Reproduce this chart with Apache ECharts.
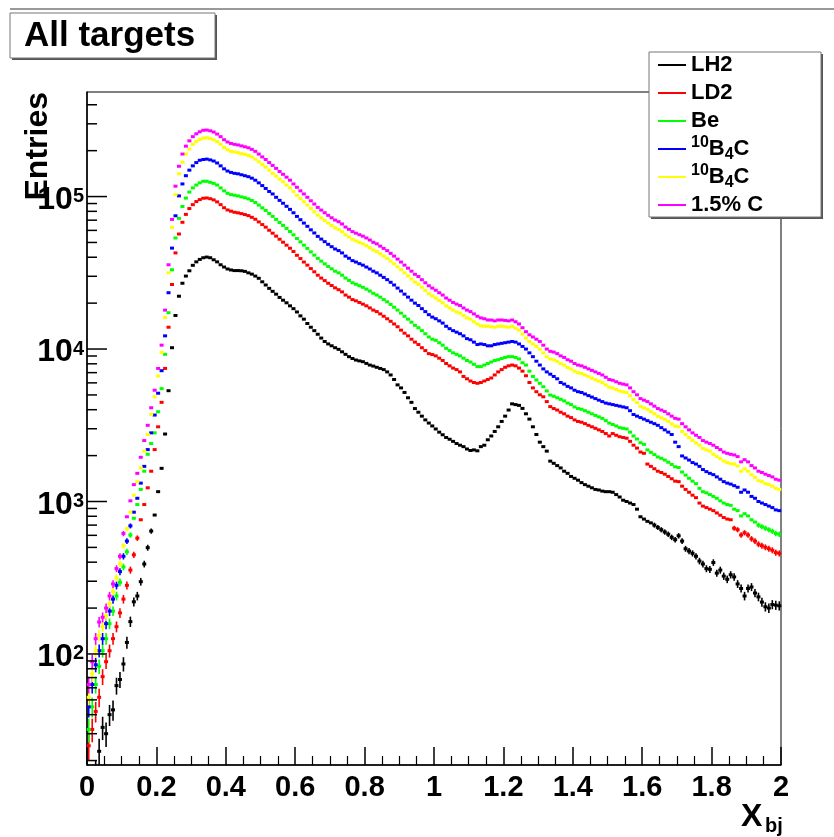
<!DOCTYPE html>
<html>
<head>
    <meta charset="UTF-8">
    <title>All targets</title>
    <script src="https://cdn.jsdelivr.net/npm/echarts@6/dist/echarts.min.js"></script>
    <style>html, body { margin: 0; padding: 0; background: #fff; }</style>
</head>
<body>
    <div id="chart" style="width:834px; height:837px;"></div>
    <script>
        // X_bj histograms: 200 bins of width 0.01 from 0 to 2, entries per bin
        var binWidth = 0.01;

        var lh2 = [
            10, 12, 16, 23, 33, 30, 40, 43, 62, 68,
            86, 119, 163, 220, 240, 298, 389, 498, 640, 815,
            1160, 1650, 2770, 5330, 10200, 16600, 22200, 27000, 30100, 32600,
            35400, 37300, 38700, 39700, 40100, 39700, 38500, 37300, 35700, 34500,
            33500, 33000, 32700, 32700, 32600, 32300, 31600, 31000, 30100, 29100,
            27600, 26300, 25000, 23900, 22900, 21800, 20900, 20100, 19200, 18400,
            17500, 16500, 15700, 14700, 13900, 13200, 12500, 11800, 11200, 10800,
            10500, 10200, 9950, 9590, 9230, 8910, 8670, 8470, 8360, 8260,
            8050, 7850, 7730, 7590, 7460, 7330, 7080, 6760, 6310, 5820,
            5560, 5190, 4790, 4470, 4070, 3850, 3630, 3430, 3270, 3130,
            2990, 2850, 2740, 2630, 2560, 2480, 2400, 2340, 2290, 2210,
            2160, 2180, 2150, 2290, 2340, 2540, 2690, 2880, 3090, 3350,
            3630, 3980, 4370, 4320, 4270, 4080, 3760, 3470, 3090, 2750,
            2450, 2290, 2140, 1840, 1780, 1720, 1660, 1580, 1530, 1460,
            1420, 1380, 1330, 1290, 1260, 1230, 1200, 1190, 1170, 1160,
            1160, 1150, 1110, 1070, 1020, 1000, 977, 955, 891, 794,
            767, 741, 724, 700, 676, 653, 631, 610, 582, 562,
            596, 550, 490, 473, 457, 437, 407, 389, 363, 359,
            398, 339, 355, 324, 309, 331, 320, 288, 269, 240,
            269, 275, 251, 237, 219, 204, 200, 211, 209, 207
        ];
        var ld2 = [
            25, 32, 42, 52, 71, 89, 105, 126, 151, 186,
            229, 282, 355, 447, 575, 759, 955, 1230, 1580, 2190,
            3090, 4470, 7460, 13900, 26500, 42700, 56800, 67800, 76400, 83400,
            88500, 92700, 95500, 97500, 97900, 96800, 95100, 92300, 88500, 84500,
            81700, 80200, 78900, 78200, 77300, 76200, 75000, 73100, 71000, 68200,
            65500, 63000, 60100, 57500, 55000, 52500, 50200, 48000, 45800, 43600,
            41200, 39200, 37200, 35500, 33700, 32100, 30500, 29200, 28100, 27000,
            26100, 25200, 24500, 23700, 22600, 21900, 21100, 20700, 20200, 19700,
            19200, 18600, 18000, 17600, 17000, 16400, 15800, 15200, 14600, 14000,
            13300, 12700, 12200, 11600, 11100, 10700, 10200, 9770, 9330, 9200,
            9020, 8710, 8410, 8040, 7760, 7500, 7330, 7080, 6610, 6380,
            6170, 6030, 5960, 6030, 6170, 6310, 6460, 6760, 7080, 7330,
            7590, 7760, 7850, 7760, 7500, 7160, 6680, 6030, 5560, 5250,
            5010, 4860, 4520, 4190, 4070, 3980, 3850, 3760, 3630, 3550,
            3430, 3350, 3310, 3240, 3160, 3090, 3020, 2950, 2880, 2790,
            2690, 2790, 2720, 2660, 2630, 2600, 2480, 2340, 2240, 2110,
            2070, 1760, 1700, 1640, 1580, 1550, 1510, 1460, 1410, 1360,
            1350, 1260, 1200, 1150, 1100, 1060, 977, 933, 912, 891,
            871, 841, 813, 785, 767, 759, 668, 653, 603, 624,
            603, 569, 550, 525, 513, 501, 490, 479, 462, 457
        ];
        var be = [
            32, 45, 63, 83, 105, 126, 158, 191, 240, 295,
            372, 468, 603, 776, 955, 1200, 1580, 2040, 2400, 2820,
            3880, 5500, 9230, 17300, 33100, 53500, 71900, 86100, 97700, 107000,
            114000, 119000, 123000, 126000, 126000, 124000, 122000, 119000, 114000, 109000,
            105000, 103000, 102000, 101000, 99500, 98200, 96600, 94200, 91400, 87900,
            84300, 81100, 77400, 74100, 70800, 67600, 64700, 61800, 59000, 56100,
            53100, 50500, 48000, 45700, 43400, 41300, 39300, 37700, 36200, 34800,
            33600, 32400, 31600, 30500, 29200, 28200, 27200, 26600, 26000, 25400,
            24700, 24000, 23200, 22600, 21900, 21100, 20400, 19600, 18800, 18000,
            17200, 16400, 15700, 15000, 14300, 13800, 13200, 12600, 12000, 11600,
            11400, 11000, 10600, 10100, 9770, 9440, 9230, 9020, 8710, 8410,
            8220, 7940, 7670, 7670, 7850, 8040, 8220, 8410, 8510, 8670,
            8810, 8910, 8910, 8810, 8610, 8130, 7850, 7160, 6610, 6270,
            5960, 5660, 5310, 4990, 4900, 4790, 4680, 4570, 4420, 4320,
            4170, 4070, 4030, 3940, 3850, 3760, 3670, 3590, 3510, 3390,
            3270, 3200, 3130, 3050, 3020, 2990, 2850, 2690, 2570, 2430,
            2370, 2180, 2100, 2030, 1960, 1920, 1870, 1810, 1750, 1690,
            1670, 1560, 1490, 1420, 1360, 1310, 1220, 1160, 1140, 1110,
            1080, 1050, 1010, 977, 955, 944, 891, 871, 804, 832,
            804, 759, 733, 700, 684, 668, 653, 638, 617, 610
        ];
        var b4cBlue = [
            45, 63, 85, 105, 126, 158, 191, 229, 282, 347,
            437, 550, 692, 851, 1050, 1320, 1700, 2190, 2820, 3690,
            5130, 7210, 12200, 23400, 45900, 74800, 101000, 121000, 137000, 149000,
            159000, 167000, 173000, 175000, 176000, 174000, 171000, 166000, 159000, 152000,
            147000, 144000, 142000, 141000, 139000, 137000, 135000, 132000, 128000, 123000,
            118000, 113000, 108000, 104000, 98900, 94400, 90400, 86300, 82400, 78300,
            74100, 70500, 67000, 63800, 60500, 57700, 54800, 52600, 50600, 48600,
            46900, 45300, 44200, 42700, 40700, 39400, 38000, 37200, 36300, 35500,
            34500, 33500, 32400, 31600, 30500, 29500, 28500, 27400, 26300, 25100,
            24000, 22900, 21900, 20900, 20000, 19300, 18400, 17600, 16800, 16200,
            15800, 15300, 14800, 14100, 13600, 13200, 12900, 12600, 12200, 11700,
            11500, 11100, 10700, 10800, 10700, 10500, 10500, 10700, 10800, 10900,
            11000, 11100, 11200, 11100, 10800, 10400, 10000, 9440, 8910, 8320,
            7850, 7410, 7080, 6840, 6610, 6380, 6030, 5890, 5690, 5560,
            5370, 5250, 5190, 5070, 4950, 4840, 4730, 4620, 4520, 4420,
            4370, 4320, 4270, 4220, 4170, 4120, 3940, 3720, 3630, 3550,
            3470, 3390, 3310, 3240, 3160, 3050, 2950, 2850, 2750, 2450,
            2290, 1990, 1930, 1870, 1800, 1760, 1700, 1620, 1570, 1530,
            1500, 1450, 1400, 1350, 1320, 1300, 1270, 1240, 1150, 1190,
            1150, 1080, 1050, 1000, 977, 955, 933, 912, 881, 871
        ];
        var b4cYellow = [
            52, 74, 105, 132, 151, 178, 214, 257, 316, 389,
            513, 661, 851, 1100, 1350, 1660, 2140, 2750, 3730, 4860,
            6650, 9510, 16100, 31600, 62800, 103000, 141000, 168000, 190000, 205000,
            220000, 230000, 237000, 242000, 243000, 240000, 236000, 229000, 220000, 210000,
            203000, 198000, 196000, 194000, 191000, 189000, 186000, 182000, 176000, 169000,
            162000, 156000, 149000, 142000, 136000, 130000, 125000, 119000, 114000, 108000,
            102000, 97000, 92600, 88000, 83500, 79500, 75600, 72500, 69700, 67000,
            64600, 62400, 60900, 58800, 56200, 54300, 52400, 51200, 50000, 49000,
            47600, 46200, 44600, 43600, 42100, 40700, 39300, 37700, 36200, 34600,
            33100, 31600, 30200, 28800, 27500, 26600, 25400, 24200, 23100, 22300,
            21600, 20800, 20100, 19200, 18600, 18000, 17500, 17200, 16600, 16000,
            15700, 15100, 14600, 14200, 14100, 14100, 14000, 13900, 14100, 14100,
            14000, 13900, 14100, 13700, 13300, 12500, 11800, 11200, 10800, 10400,
            9970, 9430, 8900, 8600, 8500, 8300, 8030, 7840, 7570, 7400,
            7160, 6990, 6910, 6750, 6590, 6440, 6300, 6160, 6020, 5810,
            5620, 5550, 5430, 5300, 5240, 5180, 4950, 4670, 4460, 4210,
            4110, 4020, 3890, 3760, 3620, 3540, 3460, 3350, 3230, 3120,
            3090, 2880, 2750, 2630, 2510, 2420, 2340, 2230, 2180, 2140,
            2040, 1970, 1910, 1840, 1800, 1770, 1760, 1710, 1580, 1640,
            1580, 1500, 1440, 1370, 1350, 1310, 1290, 1260, 1220, 1200
        ];
        var carbon = [
            63, 89, 126, 162, 174, 200, 240, 288, 363, 437,
            617, 794, 1010, 1290, 1530, 1950, 2510, 3160, 4120, 5370,
            7460, 10600, 18000, 35700, 70800, 117000, 158000, 190000, 214000, 232000,
            247000, 258000, 266000, 272000, 273000, 270000, 265000, 257000, 247000, 236000,
            228000, 223000, 220000, 218000, 215000, 212000, 209000, 204000, 198000, 190000,
            182000, 175000, 167000, 160000, 153000, 146000, 140000, 134000, 128000, 121000,
            115000, 109000, 104000, 98900, 93800, 89300, 84900, 81500, 78300, 75300,
            72600, 70100, 68400, 66100, 63100, 61000, 58900, 57500, 56200, 55000,
            53500, 51900, 50100, 49000, 47300, 45700, 44200, 42400, 40700, 38900,
            37200, 35500, 33900, 32400, 30900, 29900, 28500, 27200, 26000, 25100,
            24300, 23400, 22600, 21600, 20900, 20200, 19700, 19300, 18600, 18000,
            17600, 17000, 16400, 16000, 15800, 15500, 15500, 15300, 15500, 15500,
            15400, 15300, 15500, 15100, 14600, 13800, 13000, 12400, 12000, 11600,
            11200, 10600, 10000, 9660, 9550, 9330, 9020, 8810, 8510, 8320,
            8040, 7850, 7760, 7590, 7410, 7240, 7080, 6920, 6760, 6530,
            6310, 6240, 6100, 5960, 5890, 5820, 5560, 5250, 5010, 4730,
            4620, 4520, 4370, 4220, 4070, 3980, 3890, 3760, 3630, 3510,
            3470, 3240, 3090, 2950, 2820, 2720, 2630, 2510, 2450, 2400,
            2340, 2260, 2190, 2110, 2070, 2040, 2020, 1970, 1820, 1880,
            1820, 1720, 1660, 1580, 1550, 1510, 1480, 1450, 1400, 1380
        ];

        var seriesNames = ['LH2', 'LD2', 'Be', '10B4C blue', '10B4C yellow', '1.5% C'];
        var legendLabels = ['LH2', 'LD2', 'Be', '{sup|10}B{sub|4}C', '{sup|10}B{sub|4}C', '1.5% C'];
        var seriesColors = ['#000000', '#ff0000', '#00ff00', '#0000ff', '#ffff00', '#ff00ff'];
        var seriesValues = [lh2, ld2, be, b4cBlue, b4cYellow, carbon];

        var yMajorTicks = [100, 1000, 10000, 100000];
        var yMinorTicks = [20, 30, 40, 50, 60, 70, 80, 90,
            200, 300, 400, 500, 600, 700, 800, 900,
            2000, 3000, 4000, 5000, 6000, 7000, 8000, 9000,
            20000, 30000, 40000, 50000, 60000, 70000, 80000, 90000,
            200000, 300000, 400000];

        var font = '"Liberation Sans", Arial, Helvetica, sans-serif';

        function toPoints(values) {
            return values.map(function (v, i) {
                return [binWidth * (i + 0.5), v];
            });
        }

        // vertical Poisson error bar (sqrt N) through each bin, as ROOT draws with option E
        function errorBar(params, api) {
            var x = api.value(0);
            var n = api.value(1);
            var err = Math.sqrt(n);
            var top = api.coord([x, n + err]);
            var bottom = api.coord([x, Math.max(n - err, 1)]);
            if (bottom[1] - top[1] < 5) {
                return null;
            }
            return {
                type: 'line',
                shape: { x1: top[0], y1: top[1], x2: bottom[0], y2: bottom[1] },
                style: { stroke: api.visual('color'), lineWidth: 1.6 }
            };
        }

        function tickMark(params, api) {
            var p = api.coord([0, api.value(1)]);
            var len = api.value(2);
            return {
                type: 'line',
                shape: { x1: p[0], y1: p[1], x2: p[0] + len, y2: p[1] },
                style: { stroke: '#000', lineWidth: 1.5 }
            };
        }

        var series = [];
        seriesValues.forEach(function (values, k) {
            var pts = toPoints(values);
            series.push({
                name: seriesNames[k],
                type: 'custom',
                data: pts,
                renderItem: errorBar,
                itemStyle: { color: seriesColors[k] },
                clip: true,
                silent: true
            });
            series.push({
                name: seriesNames[k],
                type: 'scatter',
                data: pts,
                symbol: 'rect',
                symbolSize: [4, 3],
                itemStyle: { color: seriesColors[k], opacity: 1 },
                clip: true,
                silent: true
            });
        });

        var tickData = yMajorTicks.map(function (v) { return [0, v, 20]; })
            .concat(yMinorTicks.map(function (v) { return [0, v, 10]; }));
        series.push({
            type: 'custom',
            data: tickData,
            renderItem: tickMark,
            clip: false,
            silent: true,
            z: 5
        });

        var chart = echarts.init(document.getElementById('chart'), null, { renderer: 'canvas' });

        chart.setOption({
            animation: false,
            backgroundColor: '#fff',
            grid: {
                left: 87, right: 53, top: 92, bottom: 72,
                show: true, borderColor: '#000', borderWidth: 1
            },
            xAxis: {
                type: 'value',
                min: 0,
                max: 2,
                interval: 0.2,
                axisLine: { lineStyle: { color: '#000', width: 1.5 } },
                axisTick: { inside: true, length: 18, lineStyle: { color: '#000', width: 1.5 } },
                minorTick: { show: true, splitNumber: 4, length: 9, lineStyle: { color: '#000', width: 1.2 } },
                splitLine: { show: false },
                axisLabel: {
                    color: '#000', fontFamily: font, fontWeight: 'bold', fontSize: 29, margin: 8
                }
            },
            yAxis: {
                type: 'log',
                logBase: 10,
                min: 18.7,
                max: 485000,
                axisLine: { lineStyle: { color: '#000', width: 1.5 } },
                axisTick: { show: false },
                splitLine: { show: false },
                axisLabel: {
                    showMinLabel: false,
                    showMaxLabel: false,
                    margin: 3,
                    formatter: function (v) {
                        return '{b|10}{e|' + Math.round(Math.log10(v)) + '}';
                    },
                    rich: {
                        b: { color: '#000', fontFamily: font, fontWeight: 'bold', fontSize: 32, lineHeight: 34, padding: [7, 0, 0, 0] },
                        e: { color: '#000', fontFamily: font, fontWeight: 'bold', fontSize: 20, lineHeight: 18, padding: [7, 0, 0, 0], verticalAlign: 'top' }
                    }
                }
            },
            legend: {
                data: seriesNames,
                orient: 'vertical',
                left: 658,
                top: 51,
                padding: 0,
                itemGap: 0,
                itemWidth: 28,
                itemHeight: 2,
                icon: 'rect',
                selectedMode: false,
                z: 20,
                formatter: function (name) {
                    return legendLabels[seriesNames.indexOf(name)];
                },
                textStyle: {
                    color: '#000', fontFamily: font, fontWeight: 'bold', fontSize: 22, lineHeight: 28,
                    rich: {
                        sup: { color: '#000', fontFamily: font, fontWeight: 'bold', fontSize: 16, lineHeight: 13, verticalAlign: 'top' },
                        sub: { color: '#000', fontFamily: font, fontWeight: 'bold', fontSize: 16, lineHeight: 13, verticalAlign: 'bottom' }
                    }
                }
            },
            graphic: [
                { type: 'line', z: 10, shape: { x1: 10, y1: 9, x2: 834, y2: 9 }, style: { stroke: '#777', lineWidth: 1.5 } },
                { type: 'rect', z: 10, shape: { x: 12, y: 15, width: 205, height: 45 }, style: { fill: '#555' } },
                { type: 'rect', z: 11, shape: { x: 10, y: 13, width: 205, height: 45 }, style: { fill: '#fff', stroke: '#777', lineWidth: 1 } },
                { type: 'text', z: 12, x: 24, y: 36, style: { text: 'All targets', font: 'bold 35px ' + font, fill: '#000', verticalAlign: 'middle' } },
                { type: 'rect', z: 15, shape: { x: 651, y: 54, width: 172, height: 165 }, style: { fill: '#555' } },
                { type: 'rect', z: 16, shape: { x: 649, y: 52, width: 172, height: 165 }, style: { fill: '#fff', stroke: '#777', lineWidth: 1 } },
                { type: 'text', z: 12, x: 54, y: 92, rotation: Math.PI / 2, style: { text: 'Entries', font: 'bold 32px ' + font, fill: '#000', align: 'right', verticalAlign: 'bottom' } },
                { type: 'text', z: 12, x: 741, y: 817, style: { text: 'X', font: 'bold 32px ' + font, fill: '#000', verticalAlign: 'middle' } },
                { type: 'text', z: 12, x: 765, y: 826, style: { text: 'bj', font: 'bold 20px ' + font, fill: '#000', verticalAlign: 'middle' } }
            ],
            series: series
        });
    </script>
</body>
</html>
